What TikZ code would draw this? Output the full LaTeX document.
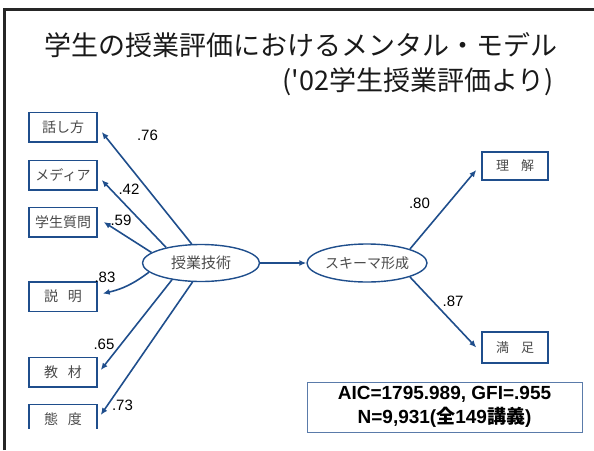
\documentclass[tikz,border=0pt]{standalone}
\usepackage{fontspec}
\setmainfont{Liberation Sans}
\newfontfamily\jp{Noto Sans CJK JP}
\usetikzlibrary{positioning,shapes.geometric,arrows.meta}
\definecolor{linkblue}{HTML}{1F4E8C}
\definecolor{statblue}{HTML}{5A7BAA}
\definecolor{boxgray}{HTML}{4A4A4A}
\tikzset{
  obs/.style={draw=linkblue,line width=1.5pt,rectangle,minimum width=68pt,minimum height=29.5pt,inner sep=0pt,font=\jp\fontsize{14}{16}\selectfont,text=boxgray},
  latent/.style={draw=linkblue,line width=1.4pt,ellipse,minimum width=117pt,minimum height=37pt,inner sep=0pt,font=\jp\fontsize{15}{17}\selectfont,text=boxgray},
  coef/.style={font=\fontsize{15}{17}\selectfont,inner sep=0pt},
  title/.style={font=\jp\fontsize{27}{32}\selectfont,inner sep=0pt,text=black!90},
  load/.style={->,line width=1.6pt,draw=linkblue},
}
\begin{document}
\begin{tikzpicture}[x=1pt,y=-1pt,node distance=48pt,on grid,>={Latex[length=7pt,width=6pt]}]
\useasboundingbox (0,0) rectangle (594,450);
\draw[line width=3pt,black!85] (4.5,450) -- (4.5,9) -- (594,9);
% title
\node[title](title1) at (301,45.5) {学生の授業評価におけるメンタル・モデル};
\node[title,anchor=east](title2) at (554,82) {('02学生授業評価より)};
% observed variables
\node[obs](hanashi) at (63,127) {話し方};
\node[obs](media)[below=48pt of hanashi]{メディア};
\node[obs](shitsumon)[below=47pt of media]{学生質問};
\node[obs](setsumei)[below=74.5pt of shitsumon]{説\hspace{10pt}明};
\node[obs](kyozai)[below=75.5pt of setsumei]{教\hspace{10pt}材};
\begin{scope}
\clip (0,0) rectangle (594,428);
\node[obs](taido)[below=47pt of kyozai]{態\hspace{10pt}度};
\end{scope}
\node[obs,minimum width=66pt,minimum height=28pt,font=\jp\fontsize{13}{15}\selectfont](rikai) at (515,166) {理\hspace{12pt}解};
\node[obs,minimum width=66pt,minimum height=31pt,font=\jp\fontsize{13}{15}\selectfont](manzoku)[below=181.5pt of rikai]{満\hspace{12pt}足};
% latent variables
\node[latent](kotsu) at (201,263) {授業技術};
\node[latent,minimum width=120pt,minimum height=38pt,font=\jp\fontsize{14}{16}\selectfont](schema)[right=166pt of kotsu]{スキーマ形成};
% paths
\draw[load] (kotsu.116) -- ([xshift=4pt,yshift=-5pt]hanashi.east);
\draw[load] (kotsu.156) -- ([xshift=4pt,yshift=-5pt]media.east);
\draw[load] (kotsu.168) -- ([xshift=6pt]shitsumon.east);
\draw[load] (kotsu.190) to[bend left=12] ([xshift=5pt,yshift=3pt]setsumei.east);
\draw[load] (kotsu.210) -- ([xshift=3pt,yshift=2pt]kyozai.east);
\draw[load] (kotsu.246) -- ([xshift=3pt,yshift=4pt]taido.east);
\draw[load] (kotsu.east) -- (schema.west);
\draw[load] (schema.18) -- ([xshift=-5pt,yshift=-4pt]rikai.west);
\draw[load] (schema.342) -- ([xshift=-5pt]manzoku.west);
% coefficients
\node[coef](c76) at (147.5,135) {.76};
\node[coef](c42) at (129,189) {.42};
\node[coef](c59) at (121,220.5) {.59};
\node[coef](c83) at (105,277) {.83};
\node[coef](c65) at (104,344) {.65};
\node[coef](c73) at (122.5,405) {.73};
\node[coef](c80) at (419.5,203) {.80};
\node[coef](c87) at (453,301) {.87};
% fit indices
\node[draw=statblue,line width=1pt,minimum width=275pt,minimum height=50pt,inner sep=0pt,align=center,font=\bfseries\fontsize{19}{24}\selectfont](fit) at (444.5,407) {AIC=1795.989, GFI=.955\\N=9,931({\jp 全}149{\jp 講義})};
\end{tikzpicture}
\end{document}
